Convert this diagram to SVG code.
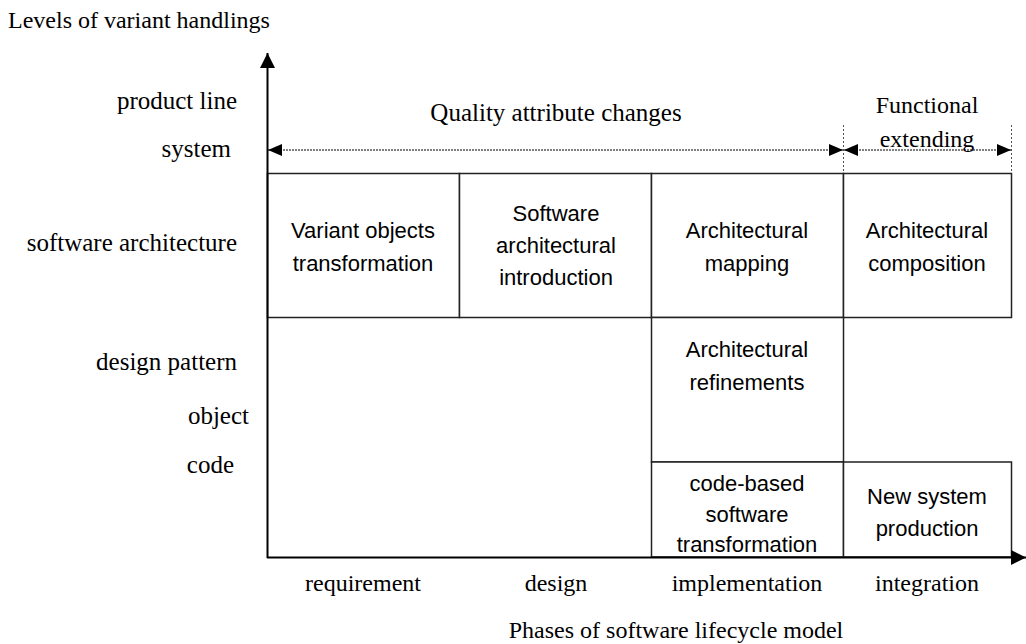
<svg xmlns="http://www.w3.org/2000/svg" width="1026" height="644" viewBox="0 0 1026 644">
  <style>
    .serif { font-family: "Liberation Serif", "Times New Roman", serif; font-size: 24px; fill: #000; }
    .lvl { font-size: 25px; text-anchor: end; }
    .sans { font-family: "Liberation Sans", Arial, sans-serif; font-size: 22px; fill: #000; text-anchor: middle; }
    .mid { text-anchor: middle; }
    .box { fill: #fff; stroke: #222; stroke-width: 1.5; }
    .axis { stroke: #000; stroke-width: 2; fill: none; }
    .dot { stroke: #000; stroke-width: 1; stroke-dasharray: 2 1; fill: none; }
    .guide { stroke: #555; stroke-width: 1; stroke-dasharray: 2 2; fill: none; }
  </style>
  <defs>
    <marker id="head" viewBox="0 0 14 12" refX="14" refY="6" markerWidth="14" markerHeight="12" markerUnits="userSpaceOnUse" orient="auto-start-reverse">
      <path d="M0,0 L14,6 L0,12 z" fill="#000"/>
    </marker>
    <marker id="axisHead" viewBox="0 0 15 15" refX="15" refY="7.5" markerWidth="15" markerHeight="15" markerUnits="userSpaceOnUse" orient="auto">
      <path d="M0,0 L15,7.5 L0,15 z" fill="#000"/>
    </marker>
  </defs>
  <rect width="1026" height="644" fill="#fff"/>

  <!-- axis titles -->
  <text class="serif" x="8" y="28">Levels of variant handlings</text>
  <text class="serif mid" x="676" y="638">Phases of software lifecycle model</text>

  <!-- level labels -->
  <g id="levels">
    <text class="serif lvl" x="237" y="109">product line</text>
    <text class="serif lvl" x="231" y="157">system</text>
    <text class="serif lvl" x="237" y="251">software architecture</text>
    <text class="serif lvl" x="237" y="370">design pattern</text>
    <text class="serif lvl" x="249" y="424">object</text>
    <text class="serif lvl" x="234" y="473">code</text>
  </g>

  <!-- phase labels -->
  <g id="phases">
    <text class="serif mid" x="363" y="591">requirement</text>
    <text class="serif mid" x="556" y="591">design</text>
    <text class="serif mid" x="747" y="591">implementation</text>
    <text class="serif mid" x="927" y="591">integration</text>
  </g>

  <!-- cells -->
  <g id="variant-objects">
    <rect class="box" x="267.5" y="173.5" width="192" height="144"/>
    <text class="sans" x="363" y="238">Variant objects</text>
    <text class="sans" x="363" y="271">transformation</text>
  </g>
  <g id="software-architectural-introduction">
    <rect class="box" x="459.5" y="173.5" width="192" height="144"/>
    <text class="sans" x="556" y="221">Software</text>
    <text class="sans" x="556" y="253">architectural</text>
    <text class="sans" x="556" y="285">introduction</text>
  </g>
  <g id="architectural-mapping">
    <rect class="box" x="651.5" y="173.5" width="192" height="144"/>
    <text class="sans" x="747" y="238">Architectural</text>
    <text class="sans" x="747" y="271">mapping</text>
  </g>
  <g id="architectural-composition">
    <rect class="box" x="843.5" y="173.5" width="168" height="144"/>
    <text class="sans" x="927" y="238">Architectural</text>
    <text class="sans" x="927" y="271">composition</text>
  </g>
  <g id="architectural-refinements">
    <rect class="box" x="651.5" y="317.5" width="192" height="144.5"/>
    <text class="sans" x="747" y="357">Architectural</text>
    <text class="sans" x="747" y="390">refinements</text>
  </g>
  <g id="code-based-transformation">
    <rect class="box" x="651.5" y="462" width="192" height="95"/>
    <text class="sans" x="747" y="491">code-based</text>
    <text class="sans" x="747" y="522">software</text>
    <text class="sans" x="747" y="552">transformation</text>
  </g>
  <g id="new-system-production">
    <rect class="box" x="843.5" y="462" width="168" height="95"/>
    <text class="sans" x="927" y="504">New system</text>
    <text class="sans" x="927" y="536">production</text>
  </g>

  <!-- span labels -->
  <g id="quality-span">
    <text class="serif mid" x="556" y="121" style="font-size:25px">Quality attribute changes</text>
  </g>
  <g id="functional-span">
    <text class="serif mid" x="927" y="113">Functional</text>
    <text class="serif mid" x="927" y="147">extending</text>
  </g>

  <!-- connectors: axes and span arrows -->
  <g id="connectors">
    <line class="axis" x1="267.5" y1="558" x2="267.5" y2="53" marker-end="url(#axisHead)"/>
    <line class="axis" x1="267" y1="557.5" x2="1026" y2="557.5" marker-end="url(#axisHead)"/>
    <line class="guide" x1="843.5" y1="125" x2="843.5" y2="173"/>
    <line class="guide" x1="1011.5" y1="125" x2="1011.5" y2="173"/>
    <line class="dot" x1="268" y1="150" x2="843" y2="150" marker-start="url(#head)" marker-end="url(#head)"/>
    <line class="dot" x1="844" y1="150" x2="1011" y2="150" marker-start="url(#head)" marker-end="url(#head)"/>
  </g>
</svg>
